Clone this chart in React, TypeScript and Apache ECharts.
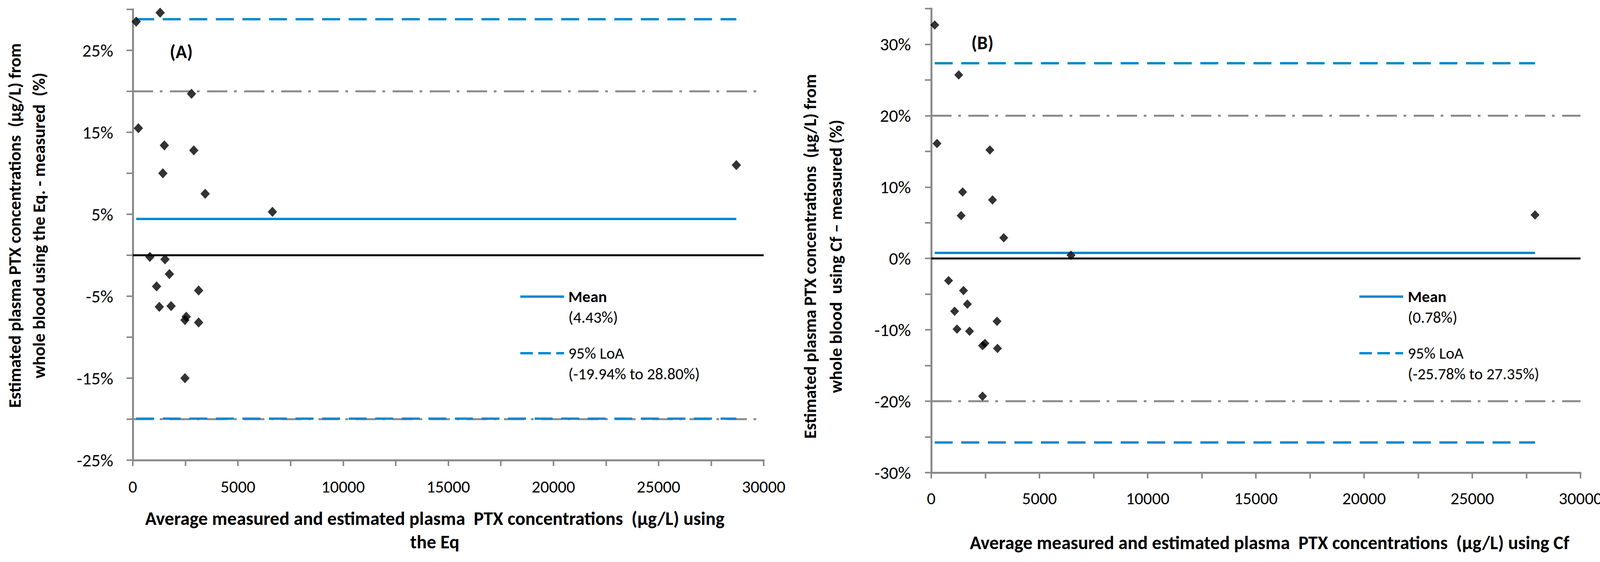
import React, { useEffect, useRef } from "react";
import * as echarts from "echarts";

// ---------- data ----------
const xRange = [0, 30000];
const xTickStep = 2500;
const xLabelStep = 5000;

const aYRange = [-25, 30];
const bYRange = [-30, 35];
const yTickStep = 5;
const yLabelStep = 10;

const acceptLimits = [-20, 20];

// Panel A: Eq.
const aX = [160, 1300, 2790, 265, 1500, 2900, 1430, 3440, 6640, 810, 1530, 1740, 1130, 3130, 1260, 1820, 2540, 2480, 3130, 2480, 28700];
const aY = [28.5, 29.6, 19.7, 15.5, 13.4, 12.8, 10.0, 7.5, 5.3, -0.2, -0.5, -2.3, -3.8, -4.3, -6.3, -6.2, -7.5, -7.9, -8.2, -15.0, 11.0];
const aMean = 4.43;
const aLoA = [-19.94, 28.8];

// Panel B: Cf
const bX = [160, 1270, 265, 2710, 1450, 2830, 1380, 3350, 6460, 800, 1490, 1670, 1080, 3040, 1190, 1770, 2480, 2370, 3060, 2370, 27900];
const bY = [32.7, 25.7, 16.1, 15.2, 9.3, 8.2, 6.0, 2.9, 0.45, -3.1, -4.5, -6.4, -7.4, -8.8, -9.9, -10.2, -11.9, -12.2, -12.6, -19.3, 6.1];
const bMean = 0.78;
const bLoA = [-25.78, 27.35];

// ---------- texts ----------
const aYTitle = "Estimated plasma PTX concentrations  (µg/L) from\nwhole blood using the Eq. - measured  (%)";
const bYTitle = "Estimated plasma PTX concentrations  (µg/L) from\nwhole blood  using Cf – measured (%)";
const aXTitle = "Average measured and estimated plasma  PTX concentrations  (µg/L) using\nthe Eq";
const bXTitle = "Average measured and estimated plasma  PTX concentrations  (µg/L) using Cf";
const aLegend = ["Mean", "(4.43%)", "95% LoA", "(-19.94% to 28.80%)"];
const bLegend = ["Mean", "(0.78%)", "95% LoA", "(-25.78% to 27.35%)"];

const FONT = "Carlito, Calibri, Lato, 'Open Sans', sans-serif";
const BLUE = "#0088CE";
const GRAY = "#8A8A8A";

function App() {
  const ref = useRef<HTMLDivElement>(null);

  useEffect(() => {
    if (!ref.current) return;
    const chart = echarts.init(ref.current, undefined, { renderer: "svg" });

    const grids = [
      { left: 340, top: 24, width: 1615, height: 1155 },
      { left: 2384, top: 22, width: 1662, height: 1189 },
    ];

    const makeX = (gi: number, margin: number) => ({
      type: "value",
      gridIndex: gi,
      min: xRange[0],
      max: xRange[1],
      interval: xTickStep,
      axisLine: { onZero: false, lineStyle: { color: GRAY, width: 5 } },
      axisTick: { show: true, length: 15, lineStyle: { color: GRAY, width: 4 } },
      splitLine: { show: false },
      axisLabel: {
        margin,
        color: "#000",
        fontSize: 44,
        fontFamily: FONT,
        formatter: (v: number) => (v % xLabelStep === 0 ? String(v) : ""),
      },
    });

    const makeY = (gi: number, range: number[], margin: number) => ({
      type: "value",
      gridIndex: gi,
      min: range[0],
      max: range[1],
      interval: yTickStep,
      axisLine: { onZero: false, lineStyle: { color: GRAY, width: 5 } },
      axisTick: { show: true, length: 16, lineStyle: { color: GRAY, width: 4 } },
      splitLine: { show: false },
      axisLabel: {
        margin,
        color: "#000",
        fontSize: 46,
        fontFamily: FONT,
        formatter: (v: number) =>
          Math.abs(Math.round(v - range[0]) % yLabelStep) === 0 ? `${Math.round(v)}%` : "",
      },
    });

    const hLine = (gi: number, x0: number, x1: number, y: number, style: any, z: number) => ({
      type: "line",
      xAxisIndex: gi,
      yAxisIndex: gi,
      data: [
        [x0, y],
        [x1, y],
      ],
      symbol: "none",
      silent: true,
      z,
      lineStyle: style,
    });

    const panelSeries = (gi: number, xs: number[], ys: number[], mean: number, loa: number[], symSize: number[]) => {
      const xmin = Math.min(...xs);
      const xmax = Math.max(...xs);
      const grayStyle = { color: GRAY, width: 5, type: [52, 17, 7, 19], cap: "butt" };
      const loaStyle = { color: BLUE, width: 6, type: [46, 22], cap: "butt" };
      return [
        hLine(gi, xRange[0], xRange[1], acceptLimits[1], grayStyle, 2),
        hLine(gi, xRange[0], xRange[1], acceptLimits[0], grayStyle, 2),
        hLine(gi, xRange[0], xRange[1], 0, { color: "#000", width: 5, type: "solid" }, 3),
        hLine(gi, xmin, xmax, mean, { color: BLUE, width: 6, type: "solid" }, 4),
        hLine(gi, xmin, xmax, loa[0], loaStyle, 4),
        hLine(gi, xmin, xmax, loa[1], loaStyle, 4),
        {
          type: "scatter",
          xAxisIndex: gi,
          yAxisIndex: gi,
          symbol: "diamond",
          symbolSize: symSize,
          itemStyle: { color: "#000" },
          z: 6,
          data: xs.map((x, i) => [x, ys[i]]),
        },
      ];
    };

    const txt = (x: number, y: number, text: string, opts: any = {}) => ({
      type: "text",
      x,
      y,
      rotation: opts.rotation || 0,
      silent: true,
      style: {
        text,
        fill: "#000",
        fontFamily: FONT,
        fontSize: opts.fontSize || 46,
        fontWeight: opts.bold ? "bold" : "normal",
        textAlign: opts.align || "left",
        textVerticalAlign: "middle",
        lineHeight: opts.lineHeight,
      },
    });

    const legend = (lx0: number, lx1: number, tx: number, labels: string[]) => [
      {
        type: "line",
        silent: true,
        shape: { x1: lx0, y1: 760, x2: lx1, y2: 760 },
        style: { stroke: BLUE, lineWidth: 6 },
      },
      {
        type: "line",
        silent: true,
        shape: { x1: lx0, y1: 905, x2: lx1, y2: 905 },
        style: { stroke: BLUE, lineWidth: 6, lineDash: [32, 14] },
      },
      txt(tx, 760, labels[0], { bold: true, fontSize: 41 }),
      txt(tx, 813, labels[1], { fontSize: 41 }),
      txt(tx, 905, labels[2], { fontSize: 41 }),
      txt(tx, 958, labels[3], { fontSize: 41 }),
    ];

    chart.setOption({
      animation: false,
      backgroundColor: "#fff",
      textStyle: { fontFamily: FONT },
      grid: grids,
      xAxis: [makeX(0, 46), makeX(1, 44)],
      yAxis: [makeY(0, aYRange, 50), makeY(1, bYRange, 52)],
      series: [
        ...panelSeries(0, aX, aY, aMean, aLoA, [24, 26]),
        ...panelSeries(1, bX, bY, bMean, bLoA, [23, 24]),
      ],
      graphic: [
        txt(68, 578, aYTitle, { bold: true, align: "center", rotation: Math.PI / 2, lineHeight: 62, fontSize: 45 }),
        txt(2106, 657, bYTitle, { bold: true, align: "center", rotation: Math.PI / 2, lineHeight: 66, fontSize: 45 }),
        txt(1113, 1358, aXTitle, { bold: true, align: "center", lineHeight: 60, fontSize: 48 }),
        txt(3250, 1390, bXTitle, { bold: true, align: "center", fontSize: 48 }),
        txt(464, 132, "(A)", { bold: true, align: "center", fontSize: 48 }),
        txt(2515, 109, "(B)", { bold: true, align: "center", fontSize: 48 }),
        ...legend(1332, 1444, 1455, aLegend),
        ...legend(3480, 3592, 3604, bLegend),
      ],
    });

    return () => chart.dispose();
  }, []);

  return (
    <div
      ref={ref}
      style={{ position: "fixed", left: 0, top: 0, width: 4157, height: 1440, background: "#fff" }}
    />
  );
}

export default App;
